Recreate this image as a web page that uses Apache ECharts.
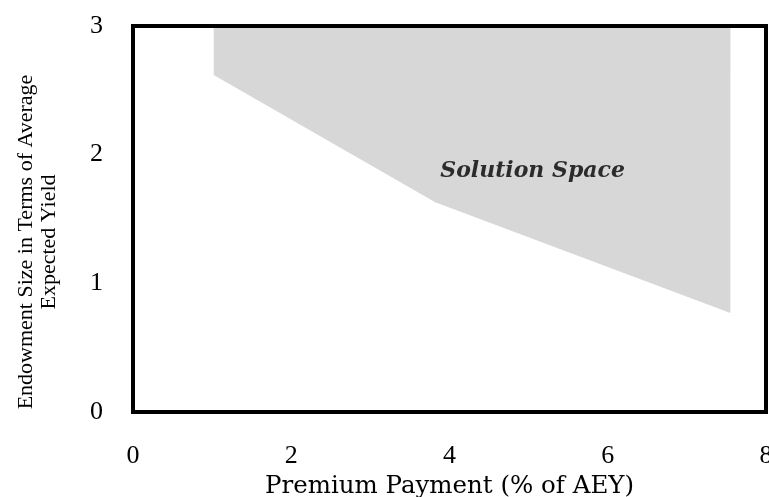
<!DOCTYPE html>
<html>
<head>
<meta charset="utf-8">
<script src="https://cdn.jsdelivr.net/npm/echarts@6/dist/echarts.min.js"></script>
<style>
html,body{margin:0;padding:0;background:#fff;}
#chart{width:769px;height:497px;}
</style>
</head>
<body>
<div id="chart"></div>
<script>
// Lower boundary of the solution space: [premium payment (% of AEY), endowment size]
var boundaryX = [1.02, 3.82, 7.55];
var boundaryY = [2.62, 1.63, 0.77];
var xTicks = [0, 2, 4, 6, 8];
var yTicks = [0, 1, 2, 3];
var areaLabel = 'Solution Space';
var areaLabelPos = [5.05, 1.87];
var xTitle = 'Premium Payment (% of AEY)';
var yTitle = 'Endowment Size in Terms of Average\nExpected Yield';

var boundary = boundaryX.map(function (x, i) { return [x, boundaryY[i]]; });
var serif = 'Liberation Serif';
var wideSerif = 'DejaVu Serif';

var chart = echarts.init(document.getElementById('chart'), null, {renderer: 'canvas'});
chart.setOption({
  animation: false,
  backgroundColor: '#fff',
  grid: {
    left: 133, right: 3, top: 26, bottom: 85,
    outerBoundsMode: 'none', containLabel: false,
    show: true, borderColor: '#000', borderWidth: 4, z: 5,
    backgroundColor: 'transparent'
  },
  xAxis: {
    type: 'value', min: xTicks[0], max: xTicks[xTicks.length - 1], interval: 2,
    axisLine: {show: false}, axisTick: {show: false}, splitLine: {show: false},
    axisLabel: {fontFamily: serif, fontSize: 26, color: '#000', margin: 31},
    name: xTitle, nameLocation: 'middle', nameGap: 60,
    nameTextStyle: {fontFamily: wideSerif, fontSize: 24.5, color: '#000'}
  },
  yAxis: {
    type: 'value', min: yTicks[0], max: yTicks[yTicks.length - 1], interval: 1,
    axisLine: {show: false}, axisTick: {show: false}, splitLine: {show: false},
    axisLabel: {fontFamily: serif, fontSize: 26, color: '#000', margin: 30},
    name: yTitle, nameLocation: 'middle', nameGap: 72, nameRotate: 90,
    nameTextStyle: {fontFamily: serif, fontSize: 22, color: '#000', lineHeight: 23, align: 'center', padding: [0, 46, 0, 0]}
  },
  series: [
    {
      type: 'line',
      data: boundary,
      symbol: 'none',
      lineStyle: {width: 0, color: '#d7d7d7'},
      areaStyle: {color: '#d7d7d7', opacity: 1, origin: 'end'},
      z: 2
    },
    {
      type: 'scatter',
      data: [areaLabelPos],
      symbolSize: 0,
      silent: true,
      label: {
        show: true, position: 'inside', formatter: areaLabel,
        fontFamily: wideSerif, fontStyle: 'italic', fontWeight: 'bold', fontSize: 22, color: '#000'
      },
      z: 3
    }
  ]
});
</script>
</body>
</html>
